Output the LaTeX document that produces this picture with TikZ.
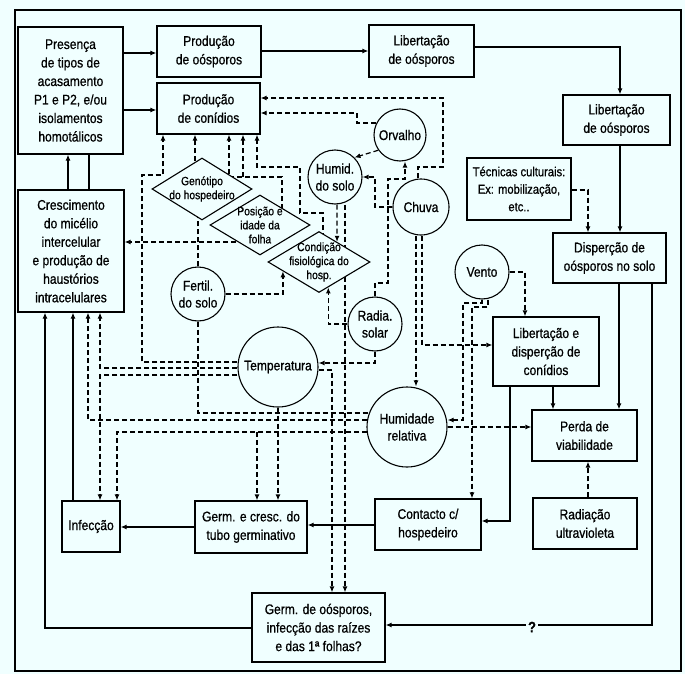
\documentclass[tikz,border=0pt]{standalone}
\usepackage{fontspec}
\setmainfont{Liberation Sans}[FakeStretch=0.86,FakeBold=0.8]
\usetikzlibrary{arrows.meta,shapes.geometric,calc}
\definecolor{bgc}{RGB}{240,255,255}
\pgfdeclarelayer{bgl}
\pgfdeclarelayer{edg}
\pgfsetlayers{bgl,edg,main}
\tikzset{
  box/.style={draw, line width=1.2pt, fill=bgc, align=center, inner sep=0pt, font=\fontsize{14}{18.5}\selectfont},
  circ/.style={draw, circle, line width=1.1pt, fill=bgc, align=center, inner sep=-4pt, font=\fontsize{14}{17}\selectfont},
  diam/.style={draw, diamond, line width=1.1pt, fill=bgc, align=center, inner xsep=-20pt, inner ysep=-12pt, font=\fontsize{12}{14}\selectfont},
  sl/.style={line width=1.2pt},
  dsh/.style={line width=1.2pt, dash pattern=on 5pt off 3pt},
  arr/.style={-{Latex[length=6pt,width=5pt]}},
}
\begin{document}
\begin{tikzpicture}[x=1pt,y=-1pt]
\useasboundingbox (0,0) rectangle (685,674);
\begin{pgfonlayer}{bgl}
\fill[bgc] (0,0) rectangle (685,674);
\end{pgfonlayer}
\draw[line width=1.5pt] (15,10) rectangle (681,671);

% boxes
\node[box,minimum width=105,minimum height=127] (pres) at (70.5,90.5) {Presença\\de tipos de\\acasamento\\P1 e P2, e/ou\\isolamentos\\homotálicos};
\node[box,minimum width=104,minimum height=51] (poos) at (209,51.5) {Produção\\de oósporos};
\node[box,minimum width=103,minimum height=51] (pcon) at (208.5,108.5) {Produção\\de conídios};
\node[box,minimum width=105,minimum height=52] (lib1) at (421.5,51) {Libertação\\de oósporos};
\node[box,minimum width=107,minimum height=50] (lib2) at (616.5,120) {Libertação\\de oósporos};
\node[box,minimum width=104,minimum height=62,font=\fontsize{13}{17.5}\selectfont] (tec) at (519,189) {Técnicas culturais:\\Ex: mobilização,\\etc..};
\node[box,minimum width=113,minimum height=50] (disp) at (609.5,258) {Disperção de\\oósporos no solo};
\node[box,minimum width=106,minimum height=122] (cresc) at (71,251) {Crescimento\\do micélio\\intercelular\\e produção de\\haustórios\\intracelulares};
\node[box,minimum width=106,minimum height=69] (libc) at (546,351.5) {Libertação e\\disperção de\\conídios};
\node[box,minimum width=105,minimum height=51] (perda) at (584.5,435.5) {Perda de\\viabilidade};
\node[box,minimum width=104,minimum height=51] (uv) at (585,523.5) {Radiação\\ultravioleta};
\node[box,minimum width=106,minimum height=51] (cont) at (428,524.5) {Contacto c/\\hospedeiro};
\node[box,minimum width=112,minimum height=52] (gcresc) at (251,527) {Germ. e cresc. do\\tubo germinativo};
\node[box,minimum width=58,minimum height=51] (inf) at (91,526.5) {Infecção};
\node[box,minimum width=133,minimum height=69] (goos) at (318.5,627.5) {Germ. de oósporos,\\infecção das raízes\\e das 1ª folhas?};

% circles
\node[circ,minimum size=52] (orv) at (400,135) {Orvalho};
\node[circ,minimum size=54] (hum) at (335,177) {Humid.\\do solo};
\node[circ,minimum size=56] (chuva) at (421,207) {Chuva};
\node[circ,minimum size=54] (vento) at (482,272) {Vento};
\node[circ,minimum size=54] (fert) at (198,294) {Fertil.\\do solo};
\node[circ,minimum size=54] (rad) at (375,324) {Radia.\\solar};
\node[circ,minimum size=80] (temp) at (278,367) {Temperatura};
\node[circ,minimum size=80] (hr) at (407,427) {Humidade\\relativa};

% diamonds
\node[diam,minimum width=100,minimum height=62] (gen) at (202,189) {Genótipo\\do hospedeiro};
\node[diam,minimum width=100,minimum height=60] (pos) at (260,225) {Posição e\\idade da\\folha};
\node[diam,minimum width=102,minimum height=61] (cond) at (319,262) {Condição\\fisiológica do\\hosp.};

\node[fill=bgc,inner sep=2pt,font=\bfseries\fontsize{15}{17}\selectfont] (q) at (532,627) {?};

\begin{pgfonlayer}{edg}
% solid connectors
\draw[sl,arr] (pres.east |- 0,53) -- (poos.west |- 0,53);
\draw[sl,arr] (cresc.north -| 68,0) -- (pres.south -| 68,0);
\draw[sl,arr] (cresc.north -| 89,0) |- (pcon.west |- 0,110);
\draw[sl,arr] (poos.east |- 0,51) -- (lib1.west |- 0,51);
\draw[sl,arr] (lib1.east |- 0,47) -| (lib2.north -| 620,0);
\draw[sl,arr] (lib2.south -| 620,0) -- (disp.north -| 620,0);
\draw[sl,arr] (disp.south -| 619,0) -- (perda.north -| 619,0);
\draw[sl,arr] (disp.south -| 652,0) |- (goos.east |- 0,625);
\draw[sl,arr] (libc.south -| 553,0) -- (perda.north -| 553,0);
\draw[sl,arr] (libc.south -| 510,0) |- (cont.east |- 0,521);
\draw[sl,arr] (cont.west |- 0,525) -- (gcresc.east |- 0,525);
\draw[sl,arr] (gcresc.west |- 0,527) -- (inf.east |- 0,527);
\draw[sl,arr] (inf.north -| 73,0) -- (cresc.south -| 73,0);
\draw[sl,arr] (goos.west |- 0,628) -| (cresc.south -| 45,0);
% dashed connectors
\draw[dsh,arr] (tec.east |- 0,190) -| (disp.north -| 588,0);
\draw[dsh,arr] (uv.north -| 588,0) -- (perda.south -| 588,0);
\draw[dsh,arr] (temp.west |- 0,362) -- (142,362) -- (142,175) -- (163,175) -- (pcon.south -| 163,0);
\draw[dsh,arr] ([shift={(-7pt,-4pt)}]gen.north) -- (pcon.south -| 195,0);
\draw[dsh] (fert.north) -- (fert.north |- gen.center);
\draw[dsh] (fert.south) |- (hr.center |- 0,413);
\draw[dsh,arr] (pos.center -| 282,0) -- (282,177) -- (229,177) -- (pcon.south -| 229,0);
\coordinate (j1) at (243,177);
\draw[dsh,arr] (j1) -- (pcon.south -| j1);
\draw[dsh,arr] (cond.center -| 323,0) -- (323,213) -- (300,213) -- (300,167) -- (257,167) -- (pcon.south -| 257,0);
\draw[dsh,arr] (pos.center |- 0,242) -- (cresc.east |- 0,242);
\draw[dsh,arr] (fert.east) -| ($(cond.west)!0.3!(cond.south)$);
\draw[dsh,arr] (hum.south -| 337,0) -- ($(cond.north)!0.35!(cond.east)$);
\draw[dsh,arr] (hum.south -| 345,0) -- (goos.north -| 345,0);
\draw[dsh,arr] (rad.west) -| ($(cond.south)!0.18!(cond.east)$);
\draw[dsh,arr] (rad.south) |- (temp.east |- 0,363);
\draw[dsh,arr] (temp.east |- 0,370) -| (goos.north -| 332,0);
\draw[dsh,arr] (rad.north) -- (rad.north |- 0,283) -- (388,283) -- (388,179) -- (405,179) -- (orv.south -| 405,0);
\draw[dsh,arr] (chuva.north -| 418,0) -- (418,167) -- (443,167) -- (443,98) -- (pcon.east |- 0,98);
\draw[dsh,arr] (orv.center |- 0,123) -- (357,123) -- (357,113) -- (pcon.east |- 0,113);
\draw[dsh,arr] (orv.215) -- (hum.45);
\draw[dsh,arr] (chuva.west) -| (375,177) -- (hum.east);
\draw[dsh,arr] (chuva.south -| 416,0) -- (hr.north -| 416,0);
\draw[dsh,arr] (chuva.south -| 422,0) |- (libc.west |- 0,345);
\draw[dsh,arr] (vento.east) -| (libc.north -| 525,0);
\draw[dsh,arr] (vento.south -| 482,0) -- (482,303) -- (463,303) -- (463,420) -- (hr.east |- 0,420);
\draw[dsh,arr] (vento.south -| 488,0) -- (488,307) -- (472,307) -- (cont.north -| 472,0);
\draw[dsh,arr] (hr.east) -- (perda.west |- hr.east);
\draw[dsh,arr] (temp.west |- 0,368) -| (cresc.south -| 100,0);
\draw[dsh,arr] (temp.west |- 0,375) -| (inf.north -| 100,0);
\draw[dsh,arr] (hr.center |- 0,420) -| (cresc.south -| 88,0);
\draw[dsh,arr] (hr.center |- 0,432) -| (inf.north -| 117,0);
\coordinate (j3) at (257,432);
\draw[dsh,arr] (j3) -- (gcresc.north -| j3);
\draw[dsh,arr] (temp.south) -- (gcresc.north -| temp.south);
\end{pgfonlayer}
\end{tikzpicture}
\end{document}
